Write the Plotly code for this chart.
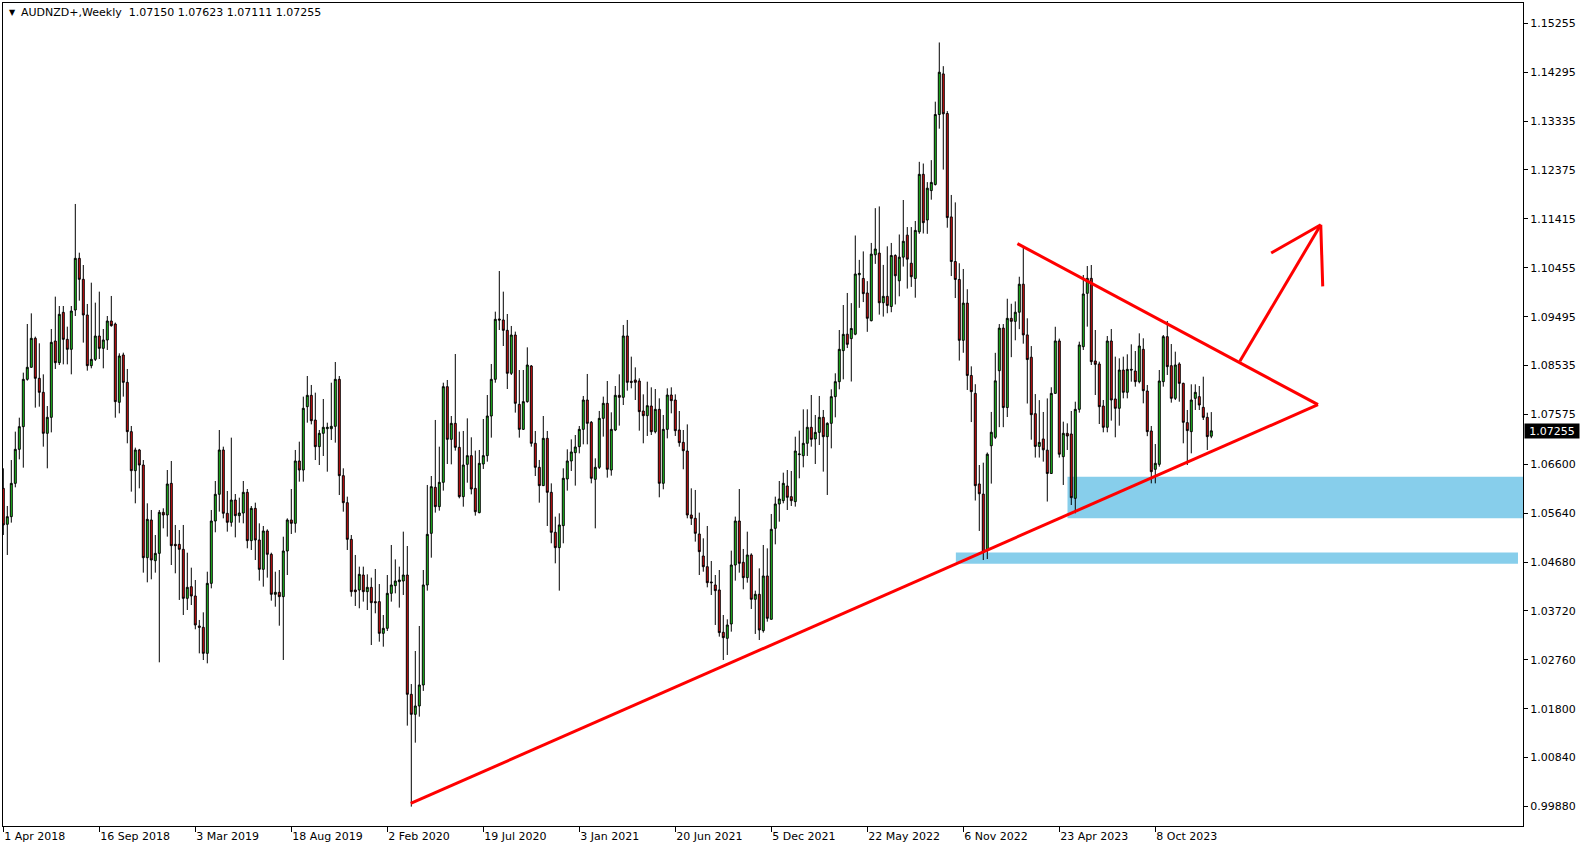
import plotly.graph_objects as go
import pandas as pd

# ---- weekly AUDNZD+ candles, first bar = week of 1 Apr 2018 ----
open_ = [1.06126,1.05420,1.05570,1.06224,1.06892,1.07337,1.08266,1.08502,1.09071,1.08286,
1.08011,1.07206,1.07520,1.09018,1.08593,1.09581,1.09051,1.08855,1.09627,1.10641,
1.10229,1.09529,1.08534,1.08658,1.09116,1.08874,1.09038,1.09411,1.09352,1.07815,
1.08744,1.08207,1.07239,1.06473,1.06879,1.06584,1.04765,1.05505,1.04706,1.04850,
1.05655,1.05603,1.06224,1.05027,1.05027,1.04929,1.03967,1.04196,1.04013,1.03424,
1.03398,1.02887,1.04261,1.05485,1.06009,1.06879,1.05636,1.05459,1.05897,1.05590,
1.05642,1.06048,1.05099,1.05733,1.05112,1.04536,1.05289,1.04831,1.04046,1.04085,
1.04000,1.04896,1.05505,1.05439,1.06663,1.06486,1.07729,1.07952,1.07467,1.06944,
1.07206,1.07297,1.07297,1.07343,1.08266,1.06375,1.05845,1.05125,1.04131,1.04131,
1.04425,1.04098,1.04183,1.03902,1.03902,1.03280,1.03378,1.04065,1.04216,1.04294,
1.04307,1.04425,1.02083,1.01690,1.01854,1.02266,1.04229,1.05243,1.06146,1.05767,
1.06244,1.08122,1.07088,1.07402,1.06931,1.05963,1.06597,1.06768,1.06126,1.05649,
1.06604,1.06768,1.07546,1.08266,1.09450,1.09431,1.09228,1.08384,1.09136,1.07775,
1.07284,1.07828,1.08528,1.07010,1.06539,1.06179,1.07108,1.06048,1.05263,1.04962,
1.05394,1.06310,1.06663,1.06826,1.06944,1.07284,1.07860,1.07422,1.06303,1.06539,
1.07500,1.07795,1.06486,1.07271,1.07952,1.07913,1.09117,1.08227,1.08253,1.08233,
1.07644,1.07552,1.07742,1.07238,1.07677,1.06225,1.07284,1.07958,1.07860,1.07271,
1.07029,1.06859,1.05603,1.05538,1.05230,1.04798,1.04588,1.04288,1.04229,1.04131,
1.03300,1.03182,1.03464,1.04621,1.05485,1.04674,1.04373,1.04818,1.03948,1.04046,
1.03333,1.04406,1.03555,1.05341,1.05819,1.05884,1.06172,1.05963,1.05865,1.06787,
1.06767,1.07010,1.07324,1.07095,1.07225,1.07520,1.07140,1.07402,1.07926,1.08220,
1.08829,1.09152,1.09065,1.09152,1.10319,1.10246,1.09961,1.09417,1.10711,1.10744,
1.09769,1.09895,1.09696,1.10697,1.10200,1.10664,1.11096,1.10545,1.10246,1.11162,
1.12290,1.11394,1.11971,1.12091,1.13464,1.14261,1.13484,1.11454,1.10578,1.10226,
1.09032,1.09762,1.08342,1.07990,1.06212,1.06013,1.04905,1.06962,1.07128,1.08435,
1.09271,1.07712,1.09463,1.09404,1.09583,1.10133,1.09138,1.08700,1.07592,1.06949,
1.07095,1.06876,1.06418,1.07990,1.09019,1.06748,1.07206,1.07193,1.05930,1.07677,
1.08907,1.09954,1.10248,1.08626,1.08567,1.07742,1.07324,1.09018,1.07880,1.07697,
1.08449,1.08011,1.08462,1.08429,1.08220,1.08855,1.08037,1.07252,1.06499,1.06597,
1.08220,1.09104,1.08534,1.07893,1.08567,1.08187,1.07416,1.07239,1.07893,1.07926,
1.07716,1.07520,1.07150]
high = [1.06519,1.05780,1.06682,1.07239,1.07513,1.08397,1.09352,1.09561,1.09104,1.08973,
1.08364,1.07742,1.09254,1.09889,1.09705,1.09705,1.09300,1.09705,1.11708,1.10752,
1.10510,1.09745,1.10163,1.09771,1.09987,1.09254,1.09509,1.09902,1.09380,1.08776,
1.08789,1.08469,1.07350,1.06925,1.06900,1.06682,1.05832,1.05701,1.05210,1.05701,
1.05734,1.06486,1.06663,1.05407,1.05308,1.05407,1.04863,1.04569,1.04327,1.03542,
1.03692,1.04490,1.05701,1.06270,1.07271,1.06944,1.06074,1.07121,1.06015,1.05943,
1.06270,1.06113,1.05779,1.05845,1.05439,1.05387,1.05321,1.04863,1.04490,1.04523,
1.05177,1.05537,1.06113,1.06879,1.07042,1.07926,1.08331,1.08155,1.08004,1.07271,
1.07880,1.07415,1.08200,1.08606,1.08331,1.06519,1.05963,1.05210,1.04818,1.04589,
1.04589,1.04438,1.04373,1.04543,1.04248,1.03640,1.04425,1.05014,1.04732,1.04589,
1.05276,1.04994,1.02285,1.02933,1.03424,1.04523,1.06192,1.06368,1.07468,1.06944,
1.08200,1.08253,1.07546,1.08763,1.07239,1.07252,1.07500,1.07128,1.06866,1.06879,
1.07487,1.07958,1.08567,1.09594,1.10392,1.09987,1.09548,1.09313,1.09202,1.08449,
1.08449,1.08894,1.08547,1.07252,1.06683,1.07546,1.07252,1.06224,1.05570,1.05636,
1.06519,1.06892,1.07088,1.07173,1.07350,1.07939,1.08371,1.07448,1.06715,1.07645,
1.07926,1.08233,1.07618,1.08135,1.08364,1.09333,1.09431,1.08711,1.08501,1.08286,
1.07971,1.08220,1.08109,1.08076,1.07893,1.07566,1.08089,1.08109,1.07971,1.07644,
1.07271,1.07382,1.06126,1.06094,1.05649,1.05145,1.05387,1.04700,1.04425,1.04523,
1.03640,1.03555,1.04903,1.05571,1.06113,1.04936,1.05276,1.04851,1.04118,1.04556,
1.05014,1.04948,1.05623,1.05963,1.06270,1.06434,1.06486,1.06467,1.07140,1.07258,
1.07677,1.07677,1.07958,1.07566,1.07939,1.07664,1.07422,1.08070,1.08384,1.09234,
1.09725,1.09961,1.09762,1.11089,1.10611,1.10777,1.10193,1.10943,1.11626,1.11660,
1.10512,1.10877,1.10943,1.10720,1.11109,1.11786,1.11255,1.11255,1.11374,1.12535,
1.12502,1.12137,1.12569,1.13716,1.14878,1.14413,1.13531,1.11885,1.11739,1.10545,
1.10432,1.10034,1.08521,1.08170,1.06584,1.06630,1.06829,1.07626,1.08786,1.09351,
1.09351,1.09848,1.09749,1.09795,1.10280,1.10857,1.09464,1.08919,1.07977,1.07858,
1.07625,1.07891,1.08110,1.09298,1.09065,1.07435,1.07402,1.07644,1.07827,1.09005,
1.10314,1.10490,1.10510,1.09234,1.08613,1.07860,1.09116,1.09254,1.08711,1.08678,
1.08711,1.08757,1.08953,1.08822,1.09169,1.09071,1.08155,1.07350,1.06996,1.08449,
1.09136,1.09411,1.08959,1.08809,1.08600,1.08200,1.07664,1.08168,1.08168,1.08135,
1.08318,1.07612,1.07623]
low = [1.05211,1.04818,1.05453,1.06146,1.06695,1.06532,1.08240,1.08495,1.07710,1.07729,
1.06944,1.06519,1.07225,1.08469,1.08547,1.08560,1.08560,1.08364,1.09509,1.09810,
1.08986,1.08436,1.08482,1.08626,1.08665,1.08482,1.08842,1.09300,1.07513,1.07598,
1.07926,1.07010,1.06061,1.05832,1.06126,1.04471,1.04281,1.04340,1.04471,1.02711,
1.05341,1.05178,1.04621,1.04458,1.03935,1.03640,1.03738,1.03836,1.03359,1.02887,
1.02756,1.02691,1.04163,1.05263,1.05669,1.05537,1.05276,1.05374,1.05164,1.05452,
1.05439,1.04949,1.04916,1.04719,1.04314,1.04196,1.04373,1.03921,1.03803,1.03430,
1.02757,1.04425,1.05230,1.05256,1.06257,1.06257,1.07415,1.07382,1.06682,1.06584,
1.06761,1.06453,1.07075,1.07023,1.05995,1.05668,1.04916,1.04000,1.03817,1.03771,
1.03902,1.03738,1.03051,1.03673,1.03116,1.03018,1.03326,1.03902,1.04065,1.03784,
1.04033,1.01468,0.99878,1.01134,1.01644,1.02150,1.04118,1.04765,1.05649,1.05688,
1.06081,1.06604,1.06597,1.06866,1.05930,1.05766,1.06237,1.06008,1.05590,1.05636,
1.06506,1.06650,1.07121,1.08200,1.09234,1.08920,1.08076,1.08351,1.07612,1.07121,
1.07271,1.07808,1.06944,1.06368,1.05845,1.06172,1.05387,1.05047,1.04654,1.04118,
1.05047,1.06081,1.06467,1.06179,1.06813,1.06990,1.06990,1.06224,1.05341,1.06506,
1.07141,1.06336,1.06375,1.07250,1.07357,1.07762,1.08043,1.08089,1.07860,1.07258,
1.07010,1.07154,1.07173,1.07205,1.05950,1.06107,1.07107,1.07598,1.07154,1.06944,
1.06500,1.05538,1.05407,1.05080,1.04425,1.04490,1.04183,1.04033,1.03444,1.03215,
1.02756,1.02855,1.03313,1.04314,1.04471,1.04144,1.04275,1.03758,1.03268,1.03149,
1.03294,1.03509,1.03555,1.05027,1.05472,1.05832,1.05701,1.05780,1.05767,1.06323,
1.06539,1.06761,1.06944,1.06604,1.06977,1.06454,1.05996,1.06911,1.07520,1.08070,
1.08266,1.08880,1.08223,1.09132,1.09669,1.09782,1.09198,1.09404,1.10532,1.09536,
1.09497,1.09563,1.09583,1.09736,1.09895,1.10479,1.10047,1.10080,1.09868,1.11122,
1.11129,1.11122,1.11792,1.12070,1.13186,1.12383,1.11242,1.10293,1.09862,1.08634,
1.08787,1.08057,1.07427,1.05887,1.05290,1.04719,1.04739,1.06219,1.07095,1.07327,
1.07327,1.07526,1.08701,1.09032,1.09251,1.08966,1.07791,1.07081,1.06730,1.06730,
1.06650,1.05867,1.06412,1.07990,1.06730,1.06192,1.06879,1.05799,1.05636,1.07612,
1.08842,1.09300,1.08547,1.07958,1.07389,1.07226,1.07226,1.07455,1.07128,1.07356,
1.07893,1.07893,1.08220,1.08122,1.08187,1.07795,1.07150,1.06224,1.06224,1.06552,
1.08122,1.08351,1.07808,1.07860,1.07827,1.07010,1.06584,1.06813,1.07664,1.07664,
1.07468,1.06879,1.07111]
close = [1.05407,1.05570,1.06224,1.06892,1.07337,1.08266,1.08502,1.09071,1.08286,1.08011,
1.07206,1.07520,1.08992,1.08593,1.09542,1.09051,1.08855,1.09607,1.10641,1.10229,
1.09529,1.08534,1.08658,1.09116,1.08874,1.09038,1.09411,1.09319,1.07828,1.08724,
1.08207,1.07239,1.06473,1.06879,1.06584,1.04765,1.05518,1.04719,1.04850,1.05655,
1.05603,1.06211,1.05001,1.05001,1.04929,1.03967,1.04183,1.04013,1.03444,1.03398,
1.02887,1.04261,1.05485,1.06009,1.06879,1.05636,1.05459,1.05897,1.05590,1.05642,
1.06048,1.05099,1.05733,1.05112,1.04536,1.05289,1.04831,1.04046,1.04085,1.04000,
1.04896,1.05505,1.05439,1.06663,1.06486,1.07697,1.07952,1.07454,1.06944,1.07206,
1.07324,1.07324,1.07343,1.08266,1.06375,1.05845,1.05125,1.04098,1.04098,1.04438,
1.04098,1.04183,1.03882,1.03882,1.03280,1.03378,1.04065,1.04229,1.04307,1.04327,
1.04425,1.02083,1.01690,1.01854,1.02266,1.04229,1.05223,1.06159,1.05767,1.06244,
1.08122,1.07088,1.07402,1.06931,1.05963,1.06584,1.06768,1.06113,1.05668,1.06617,
1.06768,1.07546,1.08266,1.09444,1.09431,1.09228,1.08384,1.09136,1.07795,1.07284,
1.07828,1.08547,1.07010,1.06539,1.06179,1.07108,1.06048,1.05263,1.04962,1.05407,
1.06323,1.06663,1.06840,1.06938,1.07284,1.07860,1.07402,1.06323,1.06539,1.07500,
1.07795,1.06500,1.07284,1.07952,1.07913,1.09117,1.08207,1.08207,1.08207,1.07631,
1.07552,1.07749,1.07238,1.07677,1.06225,1.07284,1.07958,1.07847,1.07258,1.07023,
1.06865,1.05603,1.05538,1.05243,1.04883,1.04588,1.04274,1.04274,1.04118,1.03294,
1.03195,1.03444,1.04621,1.05485,1.04654,1.04373,1.04818,1.03948,1.04046,1.03346,
1.04406,1.03575,1.05322,1.05819,1.05917,1.06225,1.05950,1.05884,1.06859,1.06800,
1.07010,1.07324,1.07088,1.07225,1.07520,1.07140,1.07402,1.07926,1.08220,1.08855,
1.09149,1.08953,1.09264,1.10333,1.10346,1.09948,1.09464,1.10724,1.10824,1.09769,
1.09895,1.09716,1.10697,1.10299,1.10664,1.10976,1.10625,1.10280,1.11189,1.12290,
1.11341,1.12018,1.12131,1.13464,1.14294,1.13478,1.11441,1.10578,1.10226,1.09032,
1.09762,1.08342,1.08024,1.06179,1.06020,1.04872,1.06796,1.07227,1.08236,1.09271,
1.07712,1.09463,1.09404,1.09583,1.10133,1.09138,1.08654,1.07572,1.06949,1.07028,
1.06882,1.06418,1.07990,1.09019,1.06796,1.07206,1.07153,1.05943,1.07677,1.08940,
1.09941,1.10248,1.08613,1.08560,1.07729,1.07324,1.09018,1.07860,1.07697,1.08449,
1.08011,1.08462,1.08449,1.08220,1.08920,1.08043,1.07239,1.06453,1.06617,1.08233,
1.09104,1.08515,1.07893,1.08547,1.08187,1.07422,1.07259,1.07860,1.08011,1.07762,
1.07520,1.07141,1.07255]

dates = pd.date_range("2018-04-01", periods=len(close), freq="7D")

# ---- axes ----
date_ticks = ["2018-04-01", "2018-09-16", "2019-03-03", "2019-08-18", "2020-02-02",
              "2020-07-19", "2021-01-03", "2021-06-20", "2021-12-05", "2022-05-22",
              "2022-11-06", "2023-04-23", "2023-10-08"]
date_labels = ["1 Apr 2018", "16 Sep 2018", "3 Mar 2019", "18 Aug 2019", "2 Feb 2020",
               "19 Jul 2020", "3 Jan 2021", "20 Jun 2021", "5 Dec 2021", "22 May 2022",
               "6 Nov 2022", "23 Apr 2023", "8 Oct 2023"]
price_labels = ["1.15255", "1.14295", "1.13335", "1.12375", "1.11415", "1.10455",
                "1.09495", "1.08535", "1.07575", "1.06600", "1.05640", "1.04680",
                "1.03720", "1.02760", "1.01800", "1.00840", "0.99880"]
price_ticks = [float(s) for s in price_labels]

x_range = ["2018-03-31 11:24", "2025-07-12 12:00"]
y_range = [0.99498, 1.15653]

# ---- drawings (triangle, arrow, zones) ----
apex_x = "2024-07-18 17:00"
apex_y = 1.07768
support_x = ["2020-03-14 00:00", apex_x]
support_y = [0.99940, apex_y]
resist_x = ["2023-02-08 17:00", apex_x]
resist_y = [1.10930, apex_y]
arrow_shaft_x = ["2024-03-04 00:00", "2024-07-23 14:00"]
arrow_shaft_y = [1.08620, 1.11301]
arrow_left_x = ["2024-04-27 19:00", "2024-07-23 14:00"]
arrow_left_y = [1.10746, 1.11301]
arrow_right_x = ["2024-07-27 00:00", "2024-07-23 14:00"]
arrow_right_y = [1.10090, 1.11301]
zone1_x = ["2023-05-07 09:00", x_range[1]]
zone1_y = [1.05540, 1.06354]
zone2_x = ["2022-10-24 00:00", "2025-07-03 17:00"]
zone2_y = [1.04647, 1.04869]

FONT = "DejaVu Sans"
GREEN = "#22cc22"
RED = "#dd1111"

fig = go.Figure()
fig.add_trace(go.Candlestick(
    x=dates, open=open_, high=high, low=low, close=close,
    increasing=dict(line=dict(color="black", width=1), fillcolor=GREEN),
    decreasing=dict(line=dict(color="black", width=1), fillcolor=RED),
    whiskerwidth=0, showlegend=False, hoverinfo="skip",
))

shapes = []
for xs, ys in [(zone1_x, zone1_y), (zone2_x, zone2_y)]:
    shapes.append(dict(type="rect", xref="x", yref="y", x0=xs[0], x1=xs[1],
                       y0=ys[0], y1=ys[1], fillcolor="#87ceeb",
                       line=dict(width=0), layer="below"))
for xs, ys in [(support_x, support_y), (resist_x, resist_y),
               (arrow_shaft_x, arrow_shaft_y), (arrow_left_x, arrow_left_y),
               (arrow_right_x, arrow_right_y)]:
    shapes.append(dict(type="line", xref="x", yref="y", x0=xs[0], x1=xs[1],
                       y0=ys[0], y1=ys[1], line=dict(color="#ff0000", width=3),
                       layer="above"))

header = "AUDNZD+,Weekly  {:.5f} {:.5f} {:.5f} {:.5f}".format(
    open_[-1], high[-1], low[-1], close[-1])

annotations = [
    dict(xref="paper", yref="paper", x=0.0026, y=0.9885, xanchor="left",
         yanchor="middle", text="\u25bc", showarrow=False,
         font=dict(family=FONT, size=8, color="black")),
    dict(xref="paper", yref="paper", x=0.0106, y=0.9885, xanchor="left",
         yanchor="middle", text=header, showarrow=False,
         font=dict(family=FONT, size=11, color="black")),
    dict(xref="paper", yref="y", x=1, y=close[-1], xanchor="left", yanchor="middle",
         text="{:.5f}".format(close[-1]), showarrow=False, bgcolor="black",
         font=dict(family=FONT, size=11, color="white"), width=52, height=12,
         borderpad=1, xshift=1),
]

fig.update_layout(
    width=1587, height=850,
    margin=dict(l=3, r=64, t=3, b=24),
    paper_bgcolor="white", plot_bgcolor="white",
    shapes=shapes, annotations=annotations,
    hovermode=False,
    font=dict(family=FONT, size=11, color="black"),
    xaxis=dict(type="date", range=x_range, rangeslider=dict(visible=False),
               showgrid=False, zeroline=False, showline=True, linecolor="black",
               linewidth=1, mirror=True, ticks="outside", ticklen=5,
               tickcolor="black", tickvals=date_ticks, ticktext=date_labels,
               ticklabelposition="outside right",
               tickfont=dict(family=FONT, size=11, color="black")),
    yaxis=dict(side="right", range=y_range, showgrid=False, zeroline=False,
               showline=True, linecolor="black", linewidth=1, mirror=True,
               ticks="outside", ticklen=4, tickcolor="black",
               tickvals=price_ticks, ticktext=price_labels,
               tickfont=dict(family=FONT, size=11, color="black")),
)

fig.write_html("out.html", config={"displayModeBar": False},
               post_script="document.body.style.margin='0';document.body.style.overflow='hidden';")
